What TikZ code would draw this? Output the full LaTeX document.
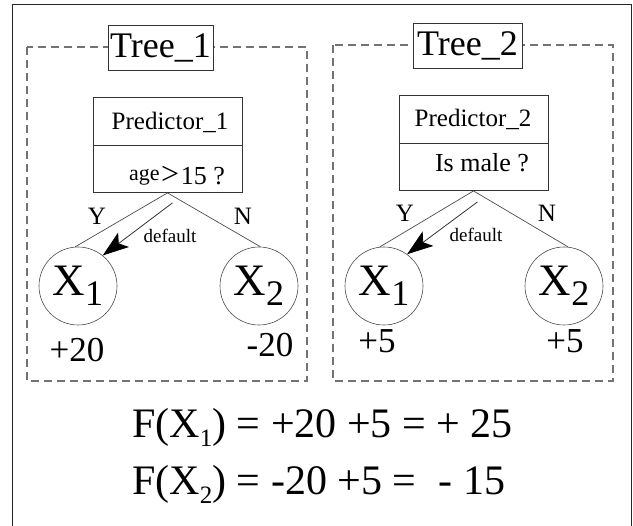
\documentclass[tikz,border=0pt]{standalone}
\usepackage{fontspec}
\setmainfont{Liberation Serif}
\usetikzlibrary{arrows.meta, positioning, calc}
\newcommand{\fs}[1]{\fontsize{#1}{#1}\selectfont}
\newcommand{\lowsub}[3]{\raisebox{-#2pt}{\fs{#3}#1}}

\begin{document}
\begin{tikzpicture}[x=1pt, y=-1pt, >=Stealth,
  treebox/.style={draw=black!55, line width=1.3pt, dash pattern=on 8pt off 5pt},
  titlebox/.style={draw=black!80, fill=white, line width=0.8pt, inner sep=0pt, font=\fs{36}},
  predbox/.style={draw=black!80, line width=0.8pt, minimum width=149pt, minimum height=95pt, inner sep=0pt},
  leaf/.style={circle, draw=black!70, line width=0.6pt, minimum size=78pt, inner sep=0pt, font=\fs{45}},
  branch/.style={draw=black!70, line width=0.7pt},
  deflt/.style={draw=black!80, line width=0.8pt, -{Stealth[length=26pt, width=18pt, inset=6pt, black]}},
  lbl/.style={inner sep=0pt, anchor=base}]

  \useasboundingbox (0,0) rectangle (633,526);
  % Outer frame, open at the bottom
  \draw[black!85, line width=1pt] (12,526) -- (12,5) -- (631,5) -- (631,526);

  % Tree_1
  \draw[treebox] (27,47) rectangle (307,381);
  \node[titlebox, minimum width=105pt, minimum height=45pt] (t1) at (160.5,47.5) {Tree\_1};
  \node[predbox] (pred1) at (167.5,145) {};
  \draw[black!80, line width=0.6pt] (pred1.west) -- (pred1.east);
  \node[lbl, font=\fs{25}] (p1name) at (170,130) {Predictor\_1};
  \node[lbl] (p1cond) at (177,185) {\raisebox{4pt}{\fs{22}age}\,{\fs{32}>}\,{\fs{26}15 ?}};
  \node[leaf] (x1a) at (78,286) {X\lowsub{1}{10}{36}};
  \node[leaf] (x2a) at (259,286) {X\lowsub{2}{10}{36}};
  \draw[branch] (pred1.south) -- (x1a.94);
  \draw[branch] (pred1.south) -- (x2a.88);
  \coordinate (s1) at ($(pred1.south)+(5,10)$);
  \draw[deflt] (s1) -- (x1a.51);
  \node[lbl, font=\fs{25}] (y1) at (97,225) {Y};
  \node[lbl, font=\fs{25}] (n1) at (243,225) {N};
  \node[lbl, font=\fs{19}] (d1) at (170,243) {default};
  \node[lbl, font=\fs{35}] (v1a) at (77,362) {+20};
  \node[lbl, font=\fs{35}] (v2a) at (270,357) {-20};

  % Tree_2
  \draw[treebox] (333,45) rectangle (613,381);
  \node[titlebox, minimum width=109pt, minimum height=45pt] (t2) at (467.5,45.5) {Tree\_2};
  \node[predbox] (pred2) at (473.5,143) {};
  \draw[black!80, line width=0.6pt] (pred2.west) -- (pred2.east);
  \node[lbl, font=\fs{25}] (p2name) at (473,127) {Predictor\_2};
  \node[lbl, font=\fs{26}] (p2cond) at (482,172) {Is male ?};
  \node[leaf] (x1b) at (384,286) {X\lowsub{1}{10}{36}};
  \node[leaf] (x2b) at (564,286) {X\lowsub{2}{10}{36}};
  \draw[branch] (pred2.south) -- (x1b.96);
  \draw[branch] (pred2.south) -- (x2b.84);
  \coordinate (s2) at ($(pred2.south)+(4,11)$);
  \draw[deflt] (s2) -- (x1b.54);
  \node[lbl, font=\fs{25}] (y2) at (405,222) {Y};
  \node[lbl, font=\fs{25}] (n2) at (547,222) {N};
  \node[lbl, font=\fs{19}] (d2) at (476,242) {default};
  \node[lbl, font=\fs{35}] (v1b) at (377,353) {+5};
  \node[lbl, font=\fs{35}] (v2b) at (565,353) {+5};

  % Sums
  \node[lbl, anchor=base west, font=\fs{42}] (f1) at (132,438) {F(X\lowsub{1}{9}{25}) = +20 +5 = + 25};
  \node[lbl, anchor=base west, font=\fs{42}] (f2) at (132,495) {F(X\lowsub{2}{9}{25}) = -20 +5 =\hspace{12pt} - 15};
\end{tikzpicture}
\end{document}
